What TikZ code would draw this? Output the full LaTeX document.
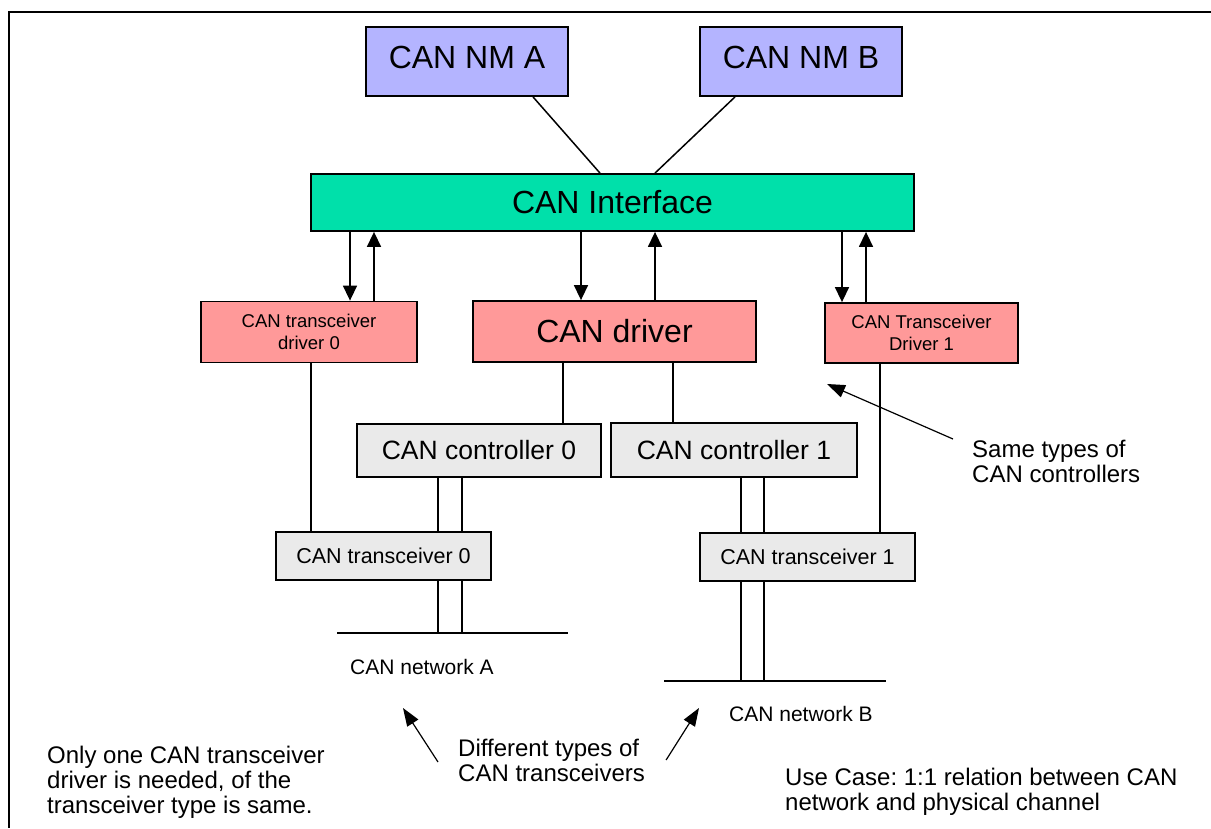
\documentclass[tikz,border=0pt]{standalone}
\usepackage{fontspec}
\setmainfont{Liberation Sans}
\usetikzlibrary{arrows.meta}
\definecolor{nmblue}{RGB}{180,180,255}
\definecolor{ifgreen}{RGB}{0,224,170}
\definecolor{drvred}{RGB}{255,153,153}
\definecolor{hwgray}{RGB}{234,234,234}
\frenchspacing
\begin{document}
\begin{tikzpicture}
        [
          x=1pt, y=-1pt,
          box/.style={draw=black, line width=1.8pt, inner sep=0pt, align=center},
          big/.style={font=\fontsize{32}{36}\selectfont},
          nm/.style={box, big, fill=nmblue, minimum width=202pt, minimum height=69pt},
          drv/.style={box, fill=drvred, minimum height=61pt, font=\fontsize{18.5}{21.7}\selectfont},
          hw/.style={box, fill=hwgray},
          wire/.style={line width=1.5pt},
          arr/.style={wire, -{Triangle[length=15pt,width=14pt]}},
          pointer/.style={line width=1.2pt, -{Triangle[length=18pt,width=13pt]}},
          note/.style={anchor=north west, inner sep=0pt, align=left, font=\fontsize{24}{25}\selectfont},
          netlabel/.style={inner sep=0pt, font=\fontsize{21}{24}\selectfont}
        ]
        \useasboundingbox (0,0) rectangle (1211,828);
        % frame
        \draw [line width=2.5pt] (1211,12) -- (9,12) -- (9,828);
        % network management
        \node [nm] (nmA) at (467,61.5) {\raisebox{8pt}{CAN NM A}};
        \node [nm] (nmB) at (801,61.5) {\raisebox{8pt}{CAN NM B}};
        % interface
        \node [box, big, fill=ifgreen, minimum width=603pt, minimum height=57pt] (canif) at (612.5,202.5) {CAN Interface};
        % drivers
        \node [drv, minimum width=216pt] (trcvdrv0) at (309,332) {CAN transceiver\\driver 0};
        \node [drv, big, minimum width=283pt] (candrv) at (614.5,331.5) {CAN driver};
        \node [drv, minimum width=193pt, minimum height=60pt] (trcvdrv1) at (921.5,333) {CAN Transceiver\\Driver 1};
        % controllers
        \node [hw, minimum width=244pt, minimum height=53pt, font=\fontsize{26.5}{30}\selectfont] (ctrl0) at (479,450.5) {CAN controller 0};
        \node [hw, minimum width=246pt, minimum height=54pt, font=\fontsize{26.5}{30}\selectfont] (ctrl1) at (734,450) {CAN controller 1};
        % transceivers
        \node [hw, minimum width=215pt, minimum height=48pt, font=\fontsize{21.5}{24}\selectfont] (trcv0) at (383.5,556) {CAN transceiver 0};
        \node [hw, minimum width=215pt, minimum height=48pt, font=\fontsize{21.5}{24}\selectfont] (trcv1) at (807.5,557) {CAN transceiver 1};
        % networks
        \coordinate (busA1) at (337,633);
        \coordinate (busA2) at (568,633);
        \coordinate (busB1) at (664,681);
        \coordinate (busB2) at (886,681);
        \draw [wire] (busA1) -- (busA2);
        \draw [wire] (busB1) -- (busB2);
        \node [netlabel] (netA) at (422,667) {CAN network A};
        \node [netlabel] (netB) at (801,714) {CAN network B};
        % nm to interface
        \draw [wire] (nmA.south -| 533,0) -- (canif.north -| 600,0);
        \draw [wire] (nmB.south -| 735,0) -- (canif.north -| 655,0);
        % interface to drivers
        \foreach \x/\n in {350/trcvdrv0,581/candrv,842/trcvdrv1} {
            \draw [arr] (canif.south -| \x,0) -- (\n.north -| \x,0);
        }
        \foreach \x/\n in {374/trcvdrv0,655/candrv,866/trcvdrv1} {
            \draw [arr] (\n.north -| \x,0) -- (canif.south -| \x,0);
        }
        % drivers to hardware
        \draw [wire] (trcvdrv0.south -| 311,0) -- (trcv0.north -| 311,0);
        \draw [wire] (candrv.south -| 563,0) -- (ctrl0.north -| 563,0);
        \draw [wire] (candrv.south -| 673,0) -- (ctrl1.north -| 673,0);
        \draw [wire] (trcvdrv1.south -| 880,0) -- (trcv1.north -| 880,0);
        % controller - transceiver - bus
        \foreach \x in {438,462} {
            \draw [wire] (ctrl0.south -| \x,0) -- (trcv0.north -| \x,0);
            \draw [wire] (trcv0.south -| \x,0) -- (busA1 -| \x,0);
        }
        \foreach \x in {741,764} {
            \draw [wire] (ctrl1.south -| \x,0) -- (trcv1.north -| \x,0);
            \draw [wire] (trcv1.south -| \x,0) -- (busB1 -| \x,0);
        }
        % notes
        \node [note] (noteS) at (972,440) {Same types of\\CAN controllers};
        \node [note] (noteL) at (47,746) {Only one CAN transceiver\\driver is needed, of the\\transceiver type is same.};
        \node [note] (noteM) at (458,739) {Different types of\\CAN transceivers};
        \node [note] (noteR) at (785,768) {Use Case: 1:1 relation between CAN\\network and physical channel};
        \coordinate (tipS) at (827,384);
        \coordinate (tipA) at (403,708);
        \coordinate (tipB) at (699,708);
        \draw [pointer] ([shift={(-19,-1)}]noteS.north west) -- (tipS);
        \draw [pointer] ([shift={(-20,23)}]noteM.north west) -- (tipA);
        \draw [pointer] ([shift={(21,21)}]noteM.north east) -- (tipB);
\end{tikzpicture}
\end{document}
